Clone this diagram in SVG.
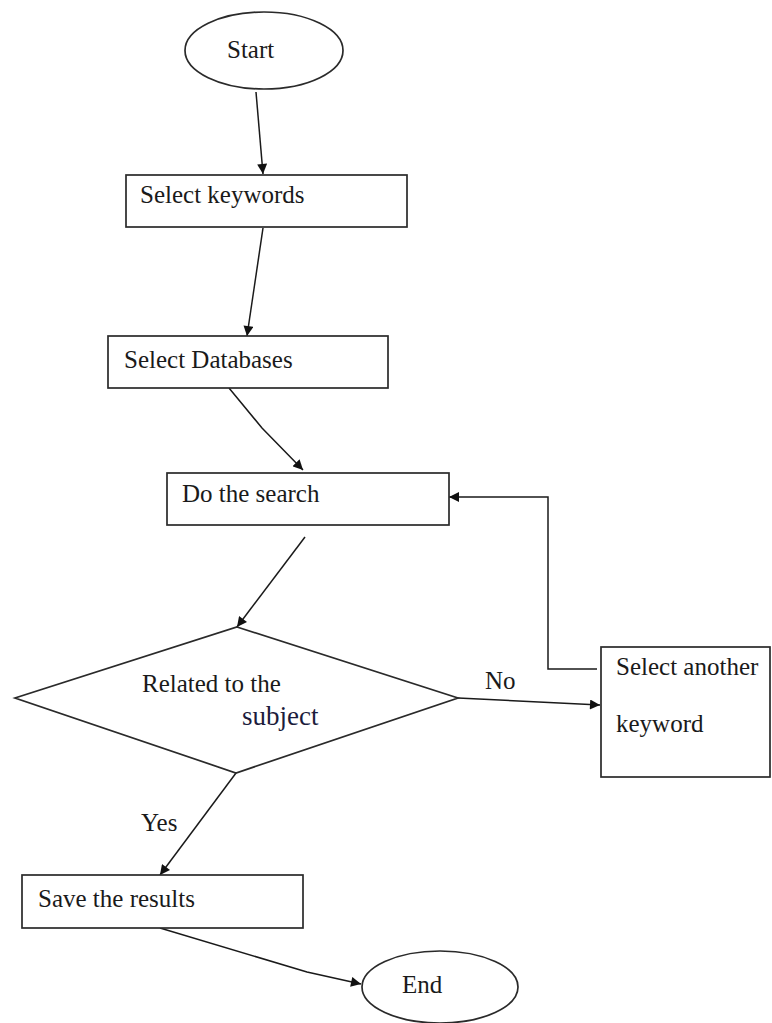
<svg xmlns="http://www.w3.org/2000/svg" width="772" height="1023" viewBox="0 0 772 1023">
<style>
.shape{fill:#fff;stroke:#2a2a2a;stroke-width:1.7}
.conn{fill:none;stroke:#1a1a1a;stroke-width:1.5}
.t{font-family:"Liberation Serif","Times New Roman",serif;font-size:25px;fill:#1a1a1a}
</style>
<defs>
<marker id="arr" viewBox="0 0 10 10" refX="10" refY="5" markerWidth="11" markerHeight="10" markerUnits="userSpaceOnUse" orient="auto">
<path d="M0,0 L10,5 L0,10 z" fill="#111"/>
</marker>
</defs>
<rect width="772" height="1023" fill="#fff"/>
<g id="connectors">
<line class="conn" x1="256" y1="92" x2="263" y2="174" marker-end="url(#arr)"/>
<line class="conn" x1="263" y1="228" x2="247" y2="336" marker-end="url(#arr)"/>
<polyline class="conn" points="229,388 262,428 303,470" marker-end="url(#arr)"/>
<line class="conn" x1="305" y1="537" x2="237" y2="627" marker-end="url(#arr)"/>
<line class="conn" x1="458" y1="698" x2="600" y2="705" marker-end="url(#arr)"/>
<polyline class="conn" points="597,669 548,669 548,497 449,497" marker-end="url(#arr)"/>
<line class="conn" x1="236" y1="773" x2="160" y2="875" marker-end="url(#arr)"/>
<polyline class="conn" points="160,928 307,972 361,984" marker-end="url(#arr)"/>
<text class="t" x="485" y="689">No</text>
<text class="t" x="141" y="831">Yes</text>
</g>
<g id="start">
<ellipse class="shape" cx="264" cy="50.5" rx="79" ry="38.5"/>
<text class="t" x="227" y="58">Start</text>
</g>
<g id="select-keywords">
<rect class="shape" x="126" y="175" width="281" height="52"/>
<text class="t" x="140" y="203">Select keywords</text>
</g>
<g id="select-databases">
<rect class="shape" x="108" y="336" width="280" height="52"/>
<text class="t" x="124" y="368">Select Databases</text>
</g>
<g id="do-search">
<rect class="shape" x="167" y="473" width="282" height="52"/>
<text class="t" x="182" y="502">Do the search</text>
</g>
<g id="related">
<polygon class="shape" points="237,627 458,698 236,773 15,698"/>
<text class="t" x="142" y="692">Related to the</text>
<text class="t" x="242" y="725" style="font-size:27px;fill:#1c1c3c">subject</text>
</g>
<g id="select-another">
<rect class="shape" x="601" y="647" width="169" height="130"/>
<text class="t" x="616" y="675">Select another</text>
<text class="t" x="616" y="732">keyword</text>
</g>
<g id="save-results">
<rect class="shape" x="22" y="875" width="281" height="53"/>
<text class="t" x="38" y="907">Save the results</text>
</g>
<g id="end">
<ellipse class="shape" cx="440" cy="987" rx="78" ry="36"/>
<text class="t" x="402" y="993">End</text>
</g>
</svg>
